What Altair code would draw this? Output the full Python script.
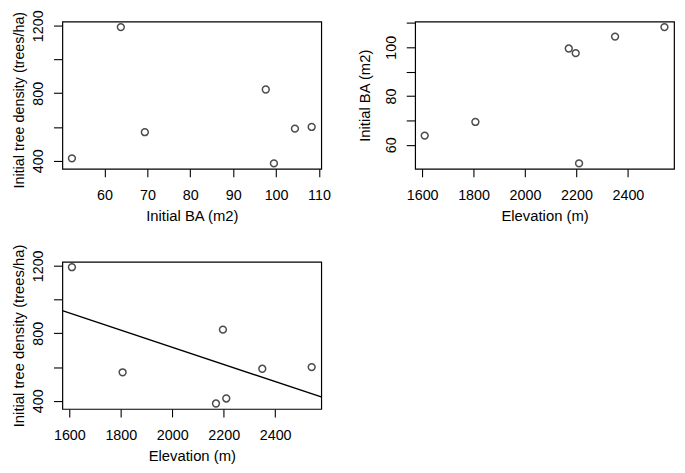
import altair as alt
import pandas as pd

# Site values
elevation = [1610, 1807, 2170, 2197, 2210, 2350, 2542]
initial_ba = [63.8, 69.4, 99.5, 97.6, 52.4, 104.4, 108.3]
tree_density = [1192, 569, 384, 822, 414, 590, 600]

df = pd.DataFrame({"elev": elevation, "ba": initial_ba, "dens": tree_density})

FONT = "Liberation Sans"
LFS = 14.5
TFS = 15

W, H = 262, 149


def rdom(vals):
    lo, hi = min(vals), max(vals)
    r = hi - lo
    return [lo - 0.04 * r, hi + 0.04 * r]


def xaxis(title, vals):
    return alt.Axis(title=title, values=vals, grid=False, domain=False, format="d",
                    tickSize=8, tickColor="black", tickWidth=1.1,
                    labelPadding=12, titlePadding=7,
                    labelFont=FONT, labelFontSize=LFS, labelColor="black",
                    titleFont=FONT, titleFontSize=TFS, titleColor="black",
                    titleFontWeight="normal", labelOverlap=False, labelFlush=False)


def yaxis(title, vals, expr, tpad, tfs=TFS, shift=0):
    return alt.Axis(title=title, values=vals, grid=False, domain=False, format="d",
                    tickSize=9, tickColor="black", tickWidth=1.1,
                    labelAngle=-90, labelAlign="center", labelBaseline="bottom",
                    labelPadding=8, titlePadding=tpad, titleY=H / 2 + shift,
                    labelExpr=expr,
                    labelFont=FONT, labelFontSize=LFS, labelColor="black",
                    titleFont=FONT, titleFontSize=tfs, titleColor="black",
                    titleFontWeight="normal", labelOverlap=False, labelFlush=False)


pt = dict(shape="circle", filled=False, size=48, stroke="black", strokeWidth=1.5, clip=True)

dens_expr = "datum.value % 400 == 0 ? datum.label : ''"
ba_expr = "datum.value % 20 == 0 ? datum.label : ''"

p1 = alt.Chart(df).mark_point(**pt).encode(
    x=alt.X("ba:Q", scale=alt.Scale(domain=rdom(initial_ba), nice=False, zero=False),
            axis=xaxis("Initial BA (m2)", [60, 70, 80, 90, 100, 110])),
    y=alt.Y("dens:Q", scale=alt.Scale(domain=rdom(tree_density), nice=False, zero=False),
            axis=yaxis("Initial tree density (trees/ha)", [400, 600, 800, 1000, 1200],
                       dens_expr, 4, tfs=14.5, shift=4.5)),
).properties(width=W, height=H)

p2 = alt.Chart(df).mark_point(**pt).encode(
    x=alt.X("elev:Q", scale=alt.Scale(domain=rdom(elevation), nice=False, zero=False),
            axis=xaxis("Elevation (m)", [1600, 1800, 2000, 2200, 2400])),
    y=alt.Y("ba:Q", scale=alt.Scale(domain=rdom(initial_ba), nice=False, zero=False),
            axis=yaxis("Initial BA (m2)", [60, 70, 80, 90, 100, 110], ba_expr, 11)),
).properties(width=W, height=H)

base3 = alt.Chart(df).encode(
    x=alt.X("elev:Q", scale=alt.Scale(domain=rdom(elevation), nice=False, zero=False),
            axis=xaxis("Elevation (m)", [1600, 1800, 2000, 2200, 2400])),
    y=alt.Y("dens:Q", scale=alt.Scale(domain=rdom(tree_density), nice=False, zero=False),
            axis=yaxis("Initial tree density (trees/ha)", [400, 600, 800, 1000, 1200], dens_expr, 4)),
)
pts3 = base3.mark_point(**pt)
line3 = base3.transform_regression("elev", "dens", extent=rdom(elevation)).mark_line(
    color="black", strokeWidth=1.4, clip=True)
p3 = alt.layer(pts3, line3).properties(width=W, height=H)

chart = alt.concat(
    p1, p2, p3,
    columns=2,
    bounds="flush",
    spacing=alt.RowColnumber(row=94, column=95),
).properties(
    autosize=alt.AutoSizeParams(type="none"),
    padding={"left": 55, "top": 11, "right": 622, "bottom": 454},
    background="white",
).configure_view(stroke="black", strokeWidth=1.2)

chart.save("out.html", embed_options={"renderer": "svg", "actions": False})
